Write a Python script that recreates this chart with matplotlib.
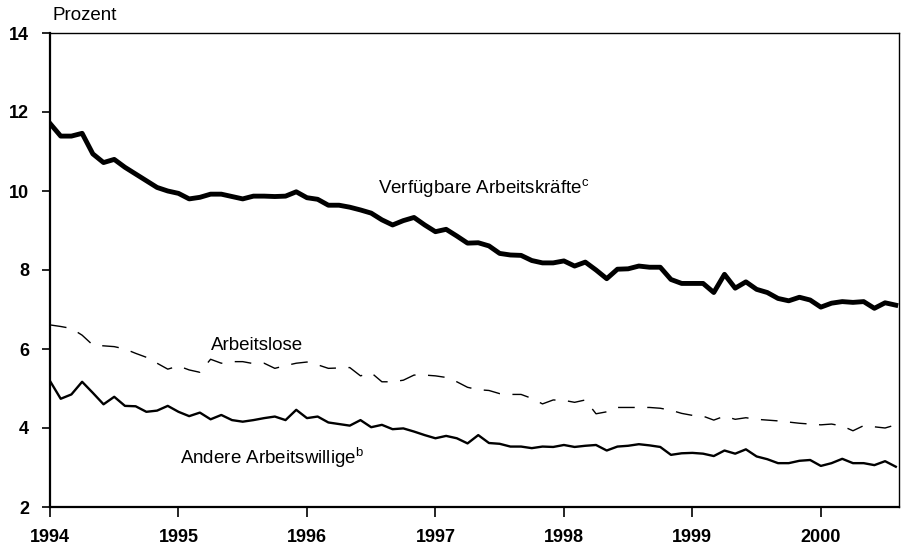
import numpy as np
import matplotlib
matplotlib.use("Agg")
import matplotlib.pyplot as plt

plt.rcParams['font.family'] = ['Liberation Sans', 'DejaVu Sans']
plt.rcParams['mathtext.fontset'] = 'custom'
plt.rcParams['mathtext.rm'] = 'Liberation Sans'
plt.rcParams['mathtext.it'] = 'Liberation Sans'

# monthly observations, January 1994 - August 2000
start_year = 1994
n_months = 80

verfuegbare = [
    11.71, 11.39, 11.39, 11.46, 10.94, 10.72, 10.80, 10.60, 10.43, 10.26, 10.09, 10.00,
    9.94, 9.80, 9.84, 9.92, 9.92, 9.86, 9.80, 9.87, 9.87, 9.86, 9.87, 9.98,
    9.83, 9.79, 9.64, 9.64, 9.59, 9.52, 9.44, 9.27, 9.14, 9.25, 9.33, 9.14,
    8.97, 9.03, 8.86, 8.68, 8.69, 8.61, 8.42, 8.38, 8.37, 8.24, 8.18, 8.18,
    8.23, 8.10, 8.20, 8.00, 7.78, 8.02, 8.03, 8.10, 8.07, 8.07, 7.76, 7.66,
    7.66, 7.66, 7.43, 7.89, 7.54, 7.70, 7.51, 7.43, 7.28, 7.22, 7.31, 7.24,
    7.06, 7.16, 7.20, 7.18, 7.20, 7.03, 7.17, 7.11,
]

arbeitslose = [
    6.61, 6.57, 6.52, 6.35, 6.10, 6.08, 6.06, 6.00, 5.89, 5.79, 5.64, 5.49,
    5.57, 5.47, 5.41, 5.74, 5.64, 5.68, 5.68, 5.63, 5.64, 5.51, 5.58, 5.64,
    5.67, 5.60, 5.51, 5.52, 5.53, 5.32, 5.40, 5.17, 5.17, 5.21, 5.34, 5.34,
    5.32, 5.28, 5.17, 5.03, 4.97, 4.95, 4.87, 4.85, 4.85, 4.75, 4.61, 4.71,
    4.70, 4.65, 4.71, 4.36, 4.41, 4.52, 4.52, 4.52, 4.52, 4.50, 4.45, 4.37,
    4.32, 4.30, 4.20, 4.30, 4.22, 4.26, 4.22, 4.20, 4.18, 4.15, 4.12, 4.10,
    4.08, 4.10, 4.05, 3.93, 4.06, 4.03, 4.00, 4.08,
]

andere = [
    5.19, 4.74, 4.85, 5.17, 4.89, 4.60, 4.79, 4.56, 4.55, 4.41, 4.44, 4.56,
    4.41, 4.30, 4.39, 4.22, 4.33, 4.20, 4.16, 4.20, 4.25, 4.29, 4.20, 4.46,
    4.25, 4.29, 4.14, 4.10, 4.06, 4.20, 4.02, 4.08, 3.97, 3.99, 3.91, 3.82,
    3.74, 3.80, 3.74, 3.61, 3.82, 3.62, 3.60, 3.53, 3.53, 3.49, 3.53, 3.52,
    3.57, 3.52, 3.55, 3.57, 3.43, 3.53, 3.55, 3.59, 3.56, 3.52, 3.32, 3.36,
    3.37, 3.35, 3.29, 3.43, 3.35, 3.46, 3.28, 3.21, 3.11, 3.11, 3.17, 3.19,
    3.04, 3.11, 3.22, 3.11, 3.11, 3.06, 3.16, 3.02,
]

year_ticks = [1994, 1995, 1996, 1997, 1998, 1999, 2000]
y_ticks = [2, 4, 6, 8, 10, 12, 14]

label_verf = "Verfügbare Arbeitskräfte$^{\\mathrm{c}}$"
label_al = "Arbeitslose"
label_and = "Andere Arbeitswillige$^{\\mathrm{b}}$"

x = start_year + np.arange(n_months) / 12.0

fig = plt.figure(figsize=(9.01, 5.50), dpi=100)
ax = fig.add_axes([50 / 901, 1 - 507 / 550, 849 / 901, (507 - 33) / 550])

ax.plot(x, verfuegbare, color='black', lw=3.5, solid_joinstyle='round')
ax.plot(x, arbeitslose, color='black', lw=1.0, dashes=(12, 9))
ax.plot(x, andere, color='black', lw=1.7, solid_joinstyle='round')

ax.set_xlim(1994, 1994 + 79.3 / 12)
ax.set_ylim(2, 14)
ax.set_xticks(year_ticks)
ax.set_xticklabels([str(y) for y in year_ticks])
ax.set_yticks(y_ticks)
ax.set_yticklabels([str(v) for v in y_ticks])

ax.tick_params(axis='x', direction='out', length=7, width=1.2, labelsize=13, pad=9)
ax.tick_params(axis='y', direction='out', length=6, width=1.2, labelsize=13, pad=9)
for lab in ax.get_xticklabels() + ax.get_yticklabels():
    lab.set_fontweight('bold')

ax.spines['left'].set_linewidth(1.6)
ax.spines['bottom'].set_linewidth(1.6)
ax.spines['top'].set_linewidth(1.0)
ax.spines['right'].set_linewidth(1.0)

fs = 13.5
ax.text(0.003, 1.018, "Prozent", transform=ax.transAxes, fontsize=fs,
        ha='left', va='bottom')
ax.text(1994 + 328 / 128.67, 9.95, label_verf, fontsize=fs, ha='left', va='baseline')
ax.text(1994 + 161 / 128.67, 5.97, label_al, fontsize=fs, ha='left', va='baseline')
ax.text(1994 + 130 / 128.67, 3.08, label_and, fontsize=fs, ha='left', va='baseline')

fig.savefig("out.png", dpi=100)
